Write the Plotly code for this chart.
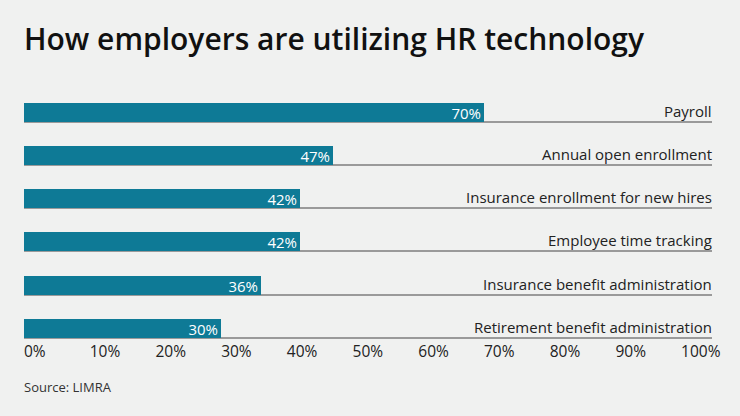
import plotly.graph_objects as go

categories = ["Payroll", "Annual open enrollment", "Insurance enrollment for new hires",
              "Employee time tracking", "Insurance benefit administration",
              "Retirement benefit administration"]
values = [70, 47, 42, 42, 36, 30]
tick_vals = [0, 10, 20, 30, 40, 50, 60, 70, 80, 90, 100]
tick_text = [f"{v}%" for v in tick_vals]

BG = "#f0f1f0"
BAR = "#0e7a96"
FONT = "Open Sans"

W, H = 740, 416
plot_left, plot_right = 24, 712
plot_top, plot_bottom = 96.1, 339.7
pw = plot_right - plot_left
ph = plot_bottom - plot_top

fig = go.Figure()
fig.add_trace(go.Bar(
    x=values, y=categories, orientation="h",
    marker=dict(color=BAR, line=dict(width=0)),
    width=0.44, offset=-0.44,
    text=[f"{v}%" for v in values],
    textposition="inside", insidetextanchor="end", constraintext="none",
    textfont=dict(color="white", size=15, family=FONT),
    hoverinfo="skip",
))

for c in categories:
    fig.add_annotation(x=1, xref="paper", y=c, yref="y", text=c,
                       xanchor="right", yanchor="middle", yshift=11, xshift=2,
                       showarrow=False, font=dict(size=15, color="#222", family=FONT))

fig.add_annotation(x=(22 - plot_left) / pw, xref="paper",
                   y=(plot_bottom - 39) / ph, yref="paper",
                   text="How employers are utilizing HR technology",
                   xanchor="left", yanchor="middle", showarrow=False,
                   font=dict(size=30, color="#111", family=FONT, weight=600))
fig.add_annotation(x=(22 - plot_left) / pw, xref="paper",
                   y=(plot_bottom - 387) / ph, yref="paper",
                   text="Source: LIMRA",
                   xanchor="left", yanchor="middle", showarrow=False,
                   font=dict(size=13, color="#333", family=FONT))

fig.update_layout(
    width=W, height=H,
    paper_bgcolor=BG, plot_bgcolor=BG,
    margin=dict(l=plot_left, r=W - plot_right, t=plot_top, b=H - plot_bottom),
    showlegend=False,
    bargap=0,
    xaxis=dict(range=[0, 104.7], tickvals=tick_vals, ticktext=tick_text,
               showgrid=False, zeroline=False, showline=False, ticks="",
               ticklabelposition="outside right",
               tickfont=dict(size=15.5, color="#222", family=FONT), fixedrange=True),
    yaxis=dict(range=[5.05, -0.6], showticklabels=False, showgrid=True,
               gridcolor="#9a9a9a", gridwidth=1.5, zeroline=False, showline=False,
               ticks="", fixedrange=True),
    font=dict(family=FONT),
)

fig.write_html("out.html", config={"displayModeBar": False},
               post_script="document.body.style.margin='0';document.body.style.overflow='hidden';")
